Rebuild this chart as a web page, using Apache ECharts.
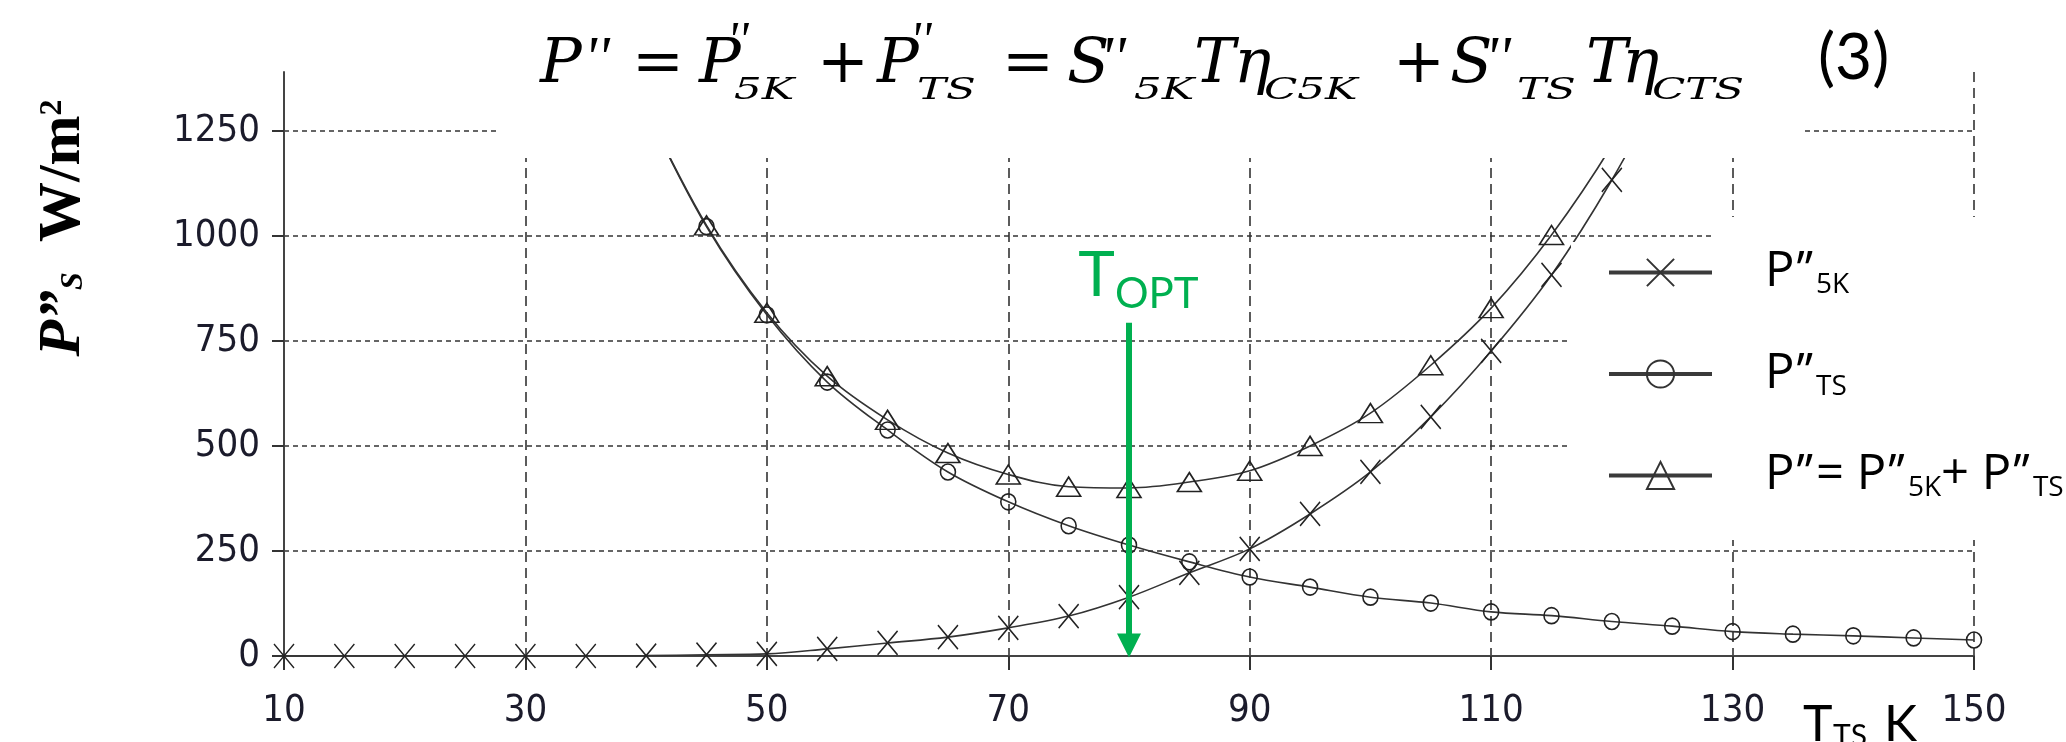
<!DOCTYPE html>
<html>
<head>
<meta charset="utf-8">
<script src="https://cdn.jsdelivr.net/npm/echarts@6/dist/echarts.min.js"></script>
<style>html,body{margin:0;padding:0;background:#fff}#c{width:2066px;height:742px}</style>
</head>
<body>
<div id="c"></div>
<script>
// ---- data ----
const temps = [10,15,20,25,30,35,40,45,50,55,60,65,70,75,80,85,90,95,100,105,110,115,120,125,130,135,140,145,150];
const p5k   = [0,0,0,0,0,0,1,3,5,17,31,45,67,95,140,198,255,338,438,569,726,907,1133,1400,null,null,null,null,null];
const pts   = [null,null,null,null,null,null,1300,1022,812,652,538,438,367,310,264,224,188,164,140,126,105,96,82,71,58,52,48,43,38];
const psum  = [null,null,null,null,null,null,1301,1025,817,666,562,483,432,403,400,414,441,500,578,692,828,1002,1215,1470,null,null,null,null,null];
const xTicks = [10,30,50,70,90,110,130,150];
const yTicks = [0,250,500,750,1000,1250];
const tOpt = 80;
const tOptArrowTop = 793;
const tOptArrowBottom = 25;
const seriesNames = ["P''5K", "P''TS", "P''"];
const legendText = {
  "P''5K": "{m|P}{q|\u2019\u2019}{s|5K}",
  "P''TS": "{m|P}{q|\u2019\u2019}{s|TS}",
  "P''":   "{m|P}{q|\u2019\u2019}{m|= P}{q|\u2019\u2019}{s|5K}{m|+ P}{q|\u2019\u2019}{s|TS}"
};

function pairs(vals){
  const out = [];
  temps.forEach((t,i)=>{ if (vals[i] != null) out.push([t, vals[i]]); });
  return out;
}

const chart = echarts.init(document.getElementById('c'), null, {renderer:'canvas', width:2066, height:742});

const lineCommon = {
  type:'line', smooth:0.35, showAllSymbol:true, clip:true,
  lineStyle:{color:'#333', width:1.6},
  itemStyle:{color:'rgba(255,255,255,0)', borderColor:'#222', borderWidth:1.6},
  emphasis:{disabled:true}, z:3, animation:false
};

// ---- equation pieces (text, left x, kind) ----
const eqFont = '"DejaVu Serif", "Liberation Serif", serif';
const primeFont = '"Liberation Serif", serif';
const eqKinds = {
  m:  {size:62, y:65.5, italic:true,  sx:1, fam:eqFont},
  op: {size:62, y:65.5, italic:false, sx:1, fam:eqFont},
  s:  {size:30, y:91.6, italic:true,  sx:1.45, fam:eqFont},
  pr: {size:60, y:61.5, italic:true,  sx:1, fam:primeFont},
  ps: {size:50, y:43,   italic:true,  sx:1, fam:primeFont}
};
const eqPieces = [
  ['P',540,'m'],["''",584,'pr'],['=',632,'op'],
  ['P',699,'m'],["''",727,'ps'],['5K',734,'s'],['+',817,'op'],
  ['P',877,'m'],["''",910,'ps'],['TS',917,'s'],['=',1002,'op'],
  ['S',1067,'m'],["''",1100,'pr'],['5K',1134,'s'],
  ['T',1194,'m'],['\u03b7',1234,'m'],['C5K',1264,'s'],['+',1393,'op'],
  ['S',1450,'m'],["''",1485,'pr'],['TS',1517,'s'],
  ['T',1586,'m'],['\u03b7',1622,'m'],['CTS',1652,'s']
];
function txt(text, x, y, font, extra){
  return Object.assign({type:'text', x:x, y:y, z:11, silent:true,
    style:{text:text, font:font, fill:'#000', textAlign:'left', align:'left', textVerticalAlign:'middle', verticalAlign:'middle'}}, extra||{});
}
const graphics = [
  {type:'rect', z:10, silent:true, shape:{x:497, y:0, width:1306, height:158}, style:{fill:'#fff'}},
  {type:'rect', z:10, silent:true, shape:{x:1571, y:242, width:495, height:298}, style:{fill:'#fff'}},
  {type:'rect', z:10, silent:true, shape:{x:1712, y:217, width:354, height:26}, style:{fill:'#fff'}}
];
eqPieces.forEach(p=>{
  const k = eqKinds[p[2]];
  graphics.push(txt(p[0], p[1], k.y, (k.italic?'italic ':'') + k.size + 'px ' + k.fam, {scaleX:k.sx}));
});
graphics.push(txt('(3)', 1818, 58, '64px Lato'));
// x axis name
graphics.push(txt('T', 1803, 725, '50px Lato'));
graphics.push(txt('TS', 1833, 736, '30px Lato'));
graphics.push(txt('K', 1884, 725, '50px Lato'));
// y axis name
graphics.push({type:'text', x:63, y:228, rotation:Math.PI/2, z:11, silent:true,
  style:{text:'{p|P\u201d}{s|S}{w|  W/m}{u|2}', fill:'#000',
    textAlign:'center', align:'center', textVerticalAlign:'middle', verticalAlign:'middle',
    rich:{
      p:{fontFamily:'"Liberation Serif", serif', fontSize:60, fontWeight:'bold', fontStyle:'italic', lineHeight:60, fill:'#000'},
      s:{fontFamily:'"Liberation Serif", serif', fontSize:32, fontWeight:'bold', fontStyle:'italic', lineHeight:32, verticalAlign:'bottom', padding:[0,0,3,0], fill:'#000'},
      w:{fontFamily:'"Liberation Serif", serif', fontSize:60, fontWeight:'bold', lineHeight:60, fill:'#000'},
      u:{fontFamily:'"Liberation Serif", serif', fontSize:32, fontWeight:'bold', lineHeight:32, verticalAlign:'top', padding:[4,0,0,0], fill:'#000'}
    }}});

const tickFont = '"Liberation Sans Narrow", "DejaVu Sans Condensed", "Liberation Sans", sans-serif';
const legendFont = '"Open Sans", Lato, sans-serif';

const option = {
  animation:false,
  backgroundColor:'#fff',
  grid:{left:284, right:92, top:72, bottom:86, containLabel:false},
  xAxis:{
    type:'value', min:10, max:150,
    axisLine:{show:true, lineStyle:{color:'#444', width:2}},
    axisTick:{show:true, customValues:xTicks, length:14, inside:false, lineStyle:{color:'#333', width:2}},
    axisLabel:{show:true, customValues:xTicks, margin:36, fontFamily:tickFont, fontSize:38, color:'#1b1b2b',
      formatter:function(v){ return String(v); }},
    splitLine:{show:true, lineStyle:{color:'#333', width:1.6, type:[10,6]}}
  },
  yAxis:{
    type:'value', min:0, max:1390,
    axisLine:{show:true, lineStyle:{color:'#444', width:2}},
    axisTick:{show:true, customValues:yTicks, length:12, inside:false, lineStyle:{color:'#333', width:2}},
    axisLabel:{show:true, customValues:yTicks, margin:24, fontFamily:tickFont, fontSize:38, color:'#1b1b2b',
      formatter:function(v){ return String(v); }},
    splitLine:{show:true, lineStyle:{color:'#333', width:1.6, type:[5,4]}}
  },
  legend:{
    data:seriesNames, orient:'vertical', left:1607, top:248, itemWidth:103, itemHeight:34, itemGap:47,
    padding:0, z:20, selectedMode:false,
    lineStyle:{color:'#3a3a3a', width:4},
    itemStyle:{borderWidth:2, borderColor:'#333'},
    formatter:function(n){ return legendText[n]; },
    textStyle:{padding:[0,0,0,48], rich:{
      m:{fontFamily:legendFont, fontSize:49, lineHeight:60, color:'#000'},
      q:{fontFamily:legendFont, fontSize:49, lineHeight:60, padding:[0,3,0,2], color:'#000'},
      s:{fontFamily:legendFont, fontSize:28, lineHeight:28, verticalAlign:'bottom', padding:[0,0,3,0], color:'#000'}
    }}
  },
  series:[
    Object.assign({}, lineCommon, {name:seriesNames[0], data:pairs(p5k), symbol:'path://M0,0L20,24M20,0L0,24', symbolSize:[20,24]}),
    Object.assign({}, lineCommon, {name:seriesNames[1], data:pairs(pts), symbol:'circle', symbolSize:[15,16]}),
    Object.assign({}, lineCommon, {name:seriesNames[2], data:pairs(psum), symbol:'triangle', symbolSize:[24,19],
      markLine:{
        silent:true, animation:false,
        symbol:['none','triangle'], symbolSize:[24,24],
        lineStyle:{color:'#00B050', width:6, type:'solid'},
        label:{show:true, position:'start', distance:7, color:'#00B050',
          formatter:'{t|T}{o|OPT}',
          rich:{
            t:{fontFamily:'Lato', fontSize:62, lineHeight:62, padding:[0,0,17,19], color:'#00B050'},
            o:{fontFamily:'Lato', fontSize:42, lineHeight:42, verticalAlign:'bottom', color:'#00B050'}
          }},
        emphasis:{disabled:true},
        data:[[{coord:[tOpt, tOptArrowTop]}, {coord:[tOpt, tOptArrowBottom]}]]
      }})
  ],
  graphic:{elements:graphics}
};
chart.setOption(option);
</script>
</body>
</html>
